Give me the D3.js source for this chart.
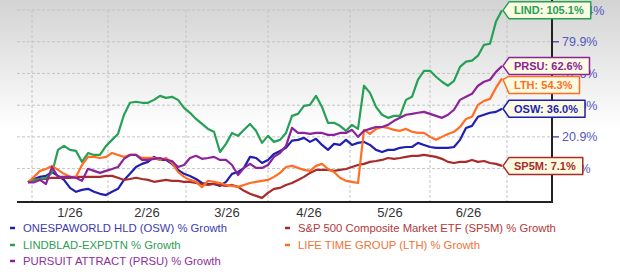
<!DOCTYPE html>
<html>
<head>
<meta charset="utf-8">
<script src="https://cdn.jsdelivr.net/npm/d3@7"></script>
<style>
  body { margin: 0; background: #fff; }
  svg { display: block; font-family: "Liberation Sans", Arial, sans-serif; }
</style>
</head>
<body>
<script>
// % growth, one sample roughly every 2-3 trading days (end of Dec -> end of Jun)
const osw = [0,1.4,2.3,2.7,4.4,2.7,1.0,-2.3,-3.9,-3.1, -2.7,-3.9,-4.7,-5.2,-3.9,-2.7,1.0,3.6,6.6,8.0,
  8.9,11.2,9.8,9.8,8.0,5.3,3.6,2.7,1.4,-0.3, -0.7,-0.7,-1.5,0.2,3.6,4.4,6.2,11.2,10.7,8.4,
  9.8,12.6,14.0,15.5,19.0,19.4,20.4,18.4,19.9,16.9, 14.5,17.4,16.9,19.4,16.9,17.9,18.4,16.9,14.5,13.5,
  14.5,14.5,15.5,15.9,15.9,17.9,16.9,15.9,15.5,15.5, 15.5,15.9,19.4,25.5,26.6,31.5,32.6,33.7,34.2,36.0];
const sp5m = [0,1.0,1.4,1.4,1.9,1.9,1.9,1.9,2.3,2.3, 2.3,2.3,2.3,2.7,2.7,1.9,1.0,1.4,1.9,1.4,
  1.0,0.2,0.6,1.0,0.6,0.6,0.2,0.2,-0.3,-0.7, -1.1,-0.7,-1.1,-1.5,-1.1,-1.9,-3.5,-4.7,-5.5,-6.3,
  -4.3,-2.7,-2.3,-1.1,-0.3,1.0,2.3,4.0,5.3,5.3, 5.3,4.9,5.3,5.7,6.6,7.5,8.0,8.9,9.3,9.8,
  10.7,10.3,10.7,11.2,11.7,11.7,12.1,11.7,11.2,10.3, 8.9,8.4,8.9,8.9,9.8,8.9,9.3,8.4,8.0,7.1];
const lind = [0,1.0,1.4,1.9,4.0,14.5,16.4,14.5,14.0,8.9, 13.0,12.1,12.1,16.4,19.4,22.4,32.6,39.4,40.0,39.4,
  39.4,41.1,43.5,42.3,42.9,41.1,36.5,33.7,30.3,27.6, 25.0,23.5,13.5,17.4,22.9,21.4,24.5,27.6,24.0,17.9,
  21.4,18.4,19.4,22.9,32.0,33.1,37.6,38.2,43.5,37.0, 28.2,28.2,26.6,24.0,27.1,25.0,49.7,45.3,37.0,32.6,
  30.9,32.0,32.0,41.1,42.9,53.5,59.3,59.3,55.4,52.2, 49.7,52.8,62.0,65.5,66.2,69.7,77.6,78.4,95.7,105.1];
const lth = [0,2.3,4.9,5.7,7.1,5.3,3.6,2.3,2.3,7.5, 11.2,11.2,10.7,11.2,13.0,12.1,11.2,12.1,12.1,10.7,
  10.7,10.7,9.8,10.7,8.4,4.4,2.3,1.0,0.2,-2.0, 0.6,0.2,-0.3,-1.1,-1.5,-1.9,-1.1,-0.3,0.2,0.6,
  1.0,2.3,4.0,6.6,7.1,6.2,5.3,4.9,7.1,8.0, 5.7,4.4,1.9,0.6,0.2,-0.3,24.5,22.4,25.0,26.0,
  25.5,24.5,24.0,25.0,23.5,22.9,22.9,20.9,19.4,20.9, 22.4,23.5,26.0,30.3,31.5,38.2,40.5,41.7,48.5,54.3];
const prsu = [0,0,1.0,-0.7,6.6,2.3,2.3,2.3,1.9,0.6, 5.8,4.9,4.0,4.9,5.7,6.6,10.3,12.1,12.1,9.8,
  9.8,10.3,10.7,9.8,9.3,6.6,7.5,10.7,11.7,10.3, 10.7,11.2,9.8,9.8,7.5,3.1,6.2,8.0,6.2,6.2,
  7.5,11.2,13.0,16.4,25.5,22.9,22.9,22.4,22.9,22.9, 21.9,21.9,22.9,22.9,24.5,20.9,24.0,25.0,26.0,26.0,
  27.1,29.3,30.9,32.6,33.1,33.7,34.2,33.1,32.0,30.9, 32.6,35.4,41.1,42.9,44.7,49.7,52.2,53.5,58.6,62.6];

// month boundaries in sample units, and their labels
const monthEdges = [0.67, 13.33, 26.33, 40, 53.67, 67, 79.83];
const monthLabels = ["1/26", "2/26", "3/26", "4/26", "5/26", "6/26"];
const yTicks = [5.9, 20.9, 38.0, 57.6, 79.9, 105.4];
const yMin = -7.9, yMax = 105.4;

const series = [
  { key: "OSW", legend: "ONESPAWORLD HLD (OSW) % Growth", color: "#1f1fb2", text: "#3c3cae", values: osw },
  { key: "SP5M", legend: "S&P 500 Composite Market ETF (SP5M) % Growth", color: "#aa2a2a", text: "#b23838", values: sp5m },
  { key: "LIND", legend: "LINDBLAD-EXPDTN % Growth", color: "#25a055", text: "#2f9e55", values: lind },
  { key: "LTH", legend: "LIFE TIME GROUP (LTH) % Growth", color: "#ff6e22", text: "#f07438", values: lth },
  { key: "PRSU", legend: "PURSUIT ATTRACT (PRSU) % Growth", color: "#8c2399", text: "#8e2e9c", values: prsu }
];

const W = 620, H = 272;
const plot = { left: 17, right: 552, top: 10, bottom: 202 };

const svg = d3.select("body").append("svg")
  .attr("width", W).attr("height", H);

// grey fade at the top
const grad = svg.append("defs").append("linearGradient")
  .attr("id", "bg").attr("x1", 0).attr("y1", 0).attr("x2", 0).attr("y2", 1);
grad.append("stop").attr("offset", "0%").attr("stop-color", "#d3d3d3");
grad.append("stop").attr("offset", "100%").attr("stop-color", "#ffffff");
svg.append("rect").attr("width", W).attr("height", 130).attr("fill", "url(#bg)");

const n = osw.length;
const x = d3.scaleLinear().domain([0, n - 1]).range([28, 502]);
const y = d3.scaleLog().domain([1 + yMin / 100, 1 + yMax / 100]).range([plot.bottom, plot.top]);
const yp = v => y(1 + v / 100);

// grid
svg.append("g").selectAll("line").data(yTicks).join("line")
  .attr("x1", plot.left).attr("x2", plot.right)
  .attr("y1", d => yp(d)).attr("y2", d => yp(d))
  .attr("stroke", "#c4c4c4").attr("stroke-dasharray", "3,2");
svg.append("g").selectAll("line").data(monthEdges).join("line")
  .attr("x1", d => x(d)).attr("x2", d => x(d))
  .attr("y1", plot.top).attr("y2", plot.bottom)
  .attr("stroke", "#c4c4c4").attr("stroke-dasharray", "3,2");

// month labels centred in each month
svg.append("g").selectAll("text").data(monthLabels).join("text")
  .attr("x", (d, i) => x((monthEdges[i] + monthEdges[i + 1]) / 2))
  .attr("y", 217)
  .attr("text-anchor", "middle")
  .attr("font-size", 13).attr("fill", "#333")
  .text(d => d);

// right axis ticks + labels (the end tags cover some of them, as in the original)
const fmt = d3.format(".1f");
const yAxis = svg.append("g");
yAxis.selectAll("line").data(yTicks).join("line")
  .attr("x1", plot.right).attr("x2", plot.right + 7)
  .attr("y1", d => yp(d)).attr("y2", d => yp(d))
  .attr("stroke", "#5858bb").attr("stroke-width", 1.5);
yAxis.selectAll("text").data(yTicks).join("text")
  .attr("x", plot.right + 10).attr("y", d => yp(d) + 4.5)
  .attr("font-size", 12.5).attr("fill", "#5656bd")
  .text(d => fmt(d) + "%");

// lines
const line = d3.line().x((d, i) => x(i)).y(d => yp(d));
svg.append("g").selectAll("path").data(series).join("path")
  .attr("d", d => line(d.values))
  .attr("fill", "none")
  .attr("stroke", d => d.color)
  .attr("stroke-width", 2.2)
  .attr("stroke-linejoin", "round");

// axes frame (bottom + right)
svg.append("path")
  .attr("d", `M${plot.left},${plot.bottom}H${plot.right}V0`)
  .attr("fill", "none").attr("stroke", "#222").attr("stroke-width", 2);

// end labels, pushed down so they do not overlap
const boxH = 17, tipX = 503, bodyX = 509;
const ends = series.map(s => ({ s: s, v: s.values[n - 1], y: yp(s.values[n - 1]) }))
  .sort((a, b) => a.y - b.y);
let prev = -Infinity;
ends.forEach(e => {
  e.cy = Math.max(e.y, prev + boxH + 2);
  prev = e.cy;
});

const tags = svg.append("g").selectAll("g").data(ends).join("g");
tags.each(function (e) {
  const g = d3.select(this);
  const path = g.append("path");
  const t = g.append("text")
    .attr("x", bodyX + 5).attr("y", e.cy + 4)
    .attr("font-size", 11).attr("font-weight", "bold")
    .attr("fill", e.s.color)
    .text(e.s.key + ": " + fmt(e.v) + "%");
  const right = bodyX + 5 + t.node().getComputedTextLength() + 7;
  const top = e.cy - boxH / 2, bot = e.cy + boxH / 2;
  const tipY = Math.max(top + 3, Math.min(bot - 3, e.y));
  path.attr("d", `M${tipX},${tipY}L${bodyX},${top}H${right}V${bot}H${bodyX}Z`)
    .attr("fill", "#fbfbe2")
    .attr("stroke", e.s.color).attr("stroke-width", 1.5)
    .attr("stroke-linejoin", "round");
});

// legend
const legendPos = [[10, 228], [285, 228], [10, 245], [285, 245], [10, 261]];
const leg = svg.append("g").selectAll("g").data(series).join("g")
  .attr("transform", (d, i) => `translate(${legendPos[i][0]},${legendPos[i][1]})`);
leg.append("line")
  .attr("x1", 0).attr("x2", 5)
  .attr("stroke", d => d.color).attr("stroke-width", 2.5);
leg.append("text")
  .attr("x", 13).attr("y", 4)
  .attr("font-size", 11.3)
  .attr("fill", d => d.text)
  .text(d => d.legend);
</script>
</body>
</html>
